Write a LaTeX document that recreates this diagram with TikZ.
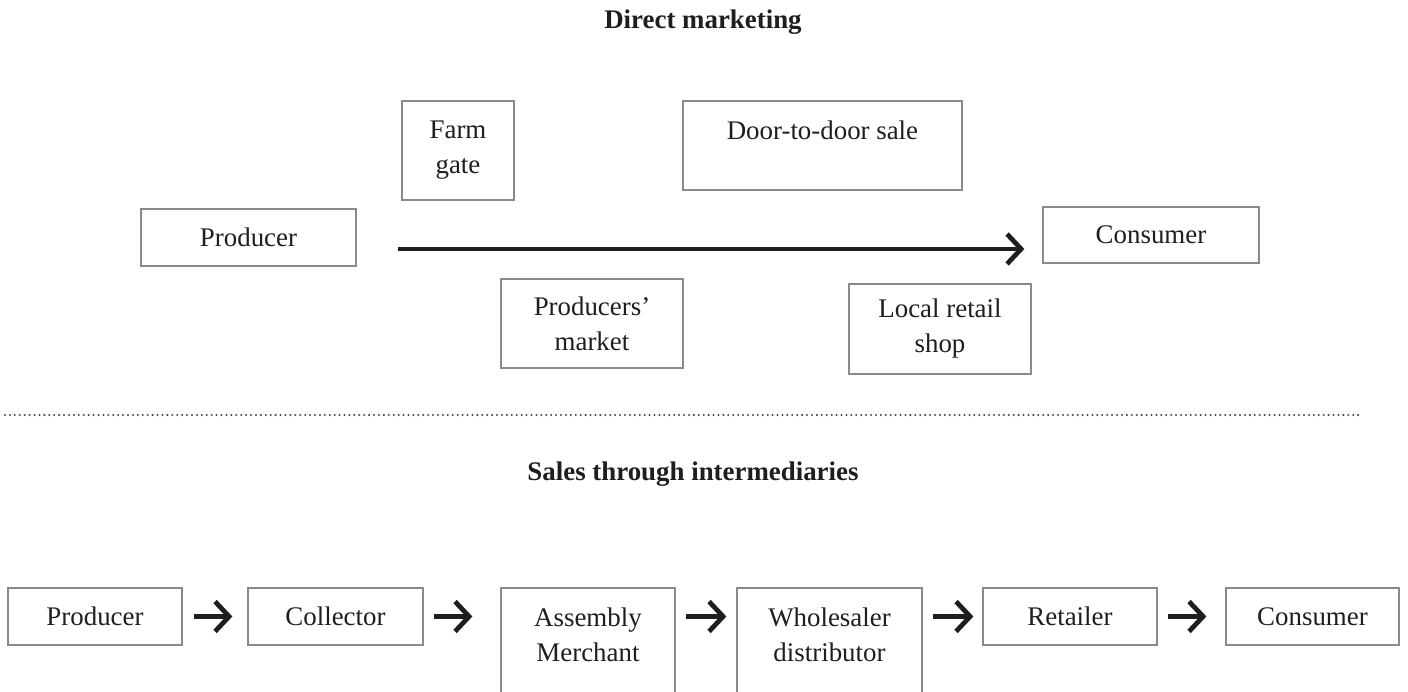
\documentclass[tikz,border=0pt]{standalone}
\usepackage{fontspec}
\setmainfont{Liberation Serif}
\usepackage{tikz}
\usetikzlibrary{arrows.meta, positioning}
\definecolor{ChainInk}{HTML}{1E1E1E}
\definecolor{ChainLine}{HTML}{8A8A8A}
\definecolor{ChainDots}{HTML}{4A4A4A}

\begin{document}
\begin{tikzpicture}[
  font=\fontsize{15.3pt}{19.9pt}\selectfont,
  box/.style={draw=ChainLine, line width=0.7pt, align=center, inner sep=4pt, text=ChainInk},
  tallbox/.style={box, minimum height=2.24cm, text depth=0.36cm},
  head/.style={font=\fontsize{15.3pt}{19.9pt}\selectfont\bfseries, text=ChainInk},
  flow/.style={-{Straight Barb[length=8pt, width=17pt]}, line width=2.7pt, draw=ChainInk}
]
  \useasboundingbox (0, 0) rectangle (28.16, -13.84);
  \clip (0, 0) rectangle (28.16, -13.84);

  % direct channels
  \node[head] (title1) at (14.06, -0.44) {Direct marketing};

  \node[box, minimum width=2.24cm, minimum height=1.98cm] (farm) at (9.16, -3.01) {Farm\\gate};
  \node[box, minimum width=5.58cm, minimum height=1.78cm, text depth=0.62cm] (door) at (16.45, -2.91) {Door-to-door sale};
  \node[box, minimum width=4.30cm, minimum height=1.14cm] (prod1) at (4.97, -4.75) {Producer};
  \node[box, minimum width=4.32cm, minimum height=1.12cm] (cons1) at (23.02, -4.70) {Consumer};
  \node[box, minimum width=3.64cm, minimum height=1.78cm] (market) at (11.84, -6.47) {Producers’\\market};
  \node[box, minimum width=3.64cm, minimum height=1.80cm] (shop) at (18.80, -6.58) {Local retail\\shop};

  \draw[flow, shorten <=0.82cm, shorten >=0.36cm] ([yshift=-0.23cm]prod1.east) -- ([yshift=-0.23cm]prod1.east -| cons1.west);

  \draw[ChainDots, line width=1.3pt, line cap=round, dash pattern=on 0pt off 2.8pt] (0.1, -8.3) -- (27.26, -8.3);

  % chain through intermediaries
  \node[head] (title2) at (13.86, -9.48) {Sales through intermediaries};

  \node[box, minimum width=3.48cm, minimum height=1.14cm] (prod2) at (1.90, -12.33) {Producer};
  \node[box, minimum width=3.50cm, minimum height=1.14cm] (coll) at (6.71, -12.33) {Collector};
  \node[tallbox, minimum width=3.48cm] (asm) at (11.76, -12.88) {Assembly\\Merchant};
  \node[tallbox, minimum width=3.70cm] (whole) at (16.59, -12.88) {Wholesaler\\distributor};
  \node[box, minimum width=3.48cm, minimum height=1.14cm] (retail) at (21.40, -12.33) {Retailer};
  \node[box, minimum width=3.46cm, minimum height=1.14cm] (cons2) at (26.25, -12.33) {Consumer};

  \draw[flow, shorten <=0.22cm, shorten >=0.30cm] (prod2) -- (coll);
  \draw[flow, shorten <=0.20cm, shorten >=0.56cm] (coll.east) -- (asm.west |- coll.east);
  \draw[flow, shorten <=0.20cm, shorten >=0.20cm] (asm.east |- coll.east) -- (whole.west |- coll.east);
  \draw[flow, shorten <=0.20cm, shorten >=0.18cm] (whole.east |- retail.west) -- (retail.west);
  \draw[flow, shorten <=0.20cm, shorten >=0.38cm] (retail) -- (cons2);
\end{tikzpicture}
\end{document}
